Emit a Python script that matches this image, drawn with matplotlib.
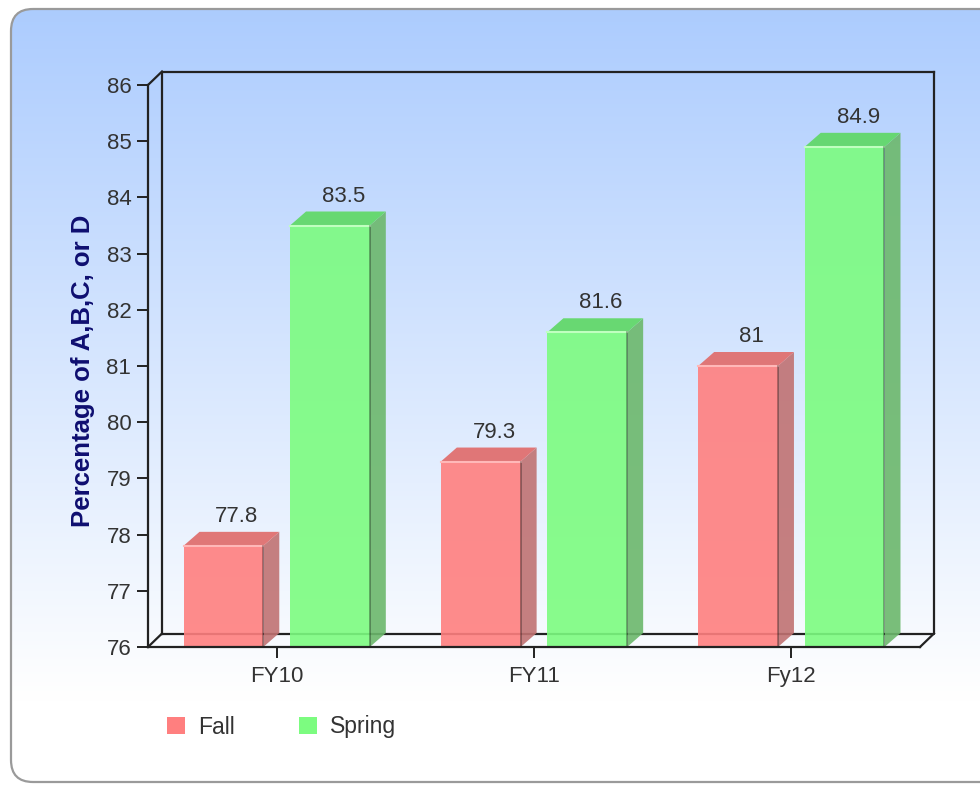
import numpy as np
import matplotlib.pyplot as plt
from matplotlib.patches import Polygon, FancyBboxPatch, Patch

# data
categories = ['FY10', 'FY11', 'Fy12']
fall = [77.8, 79.3, 81]
spring = [83.5, 81.6, 84.9]
series_names = ['Fall', 'Spring']
y_ticks = list(range(76, 87))
y_label = 'Percentage of A,B,C, or D'

plt.rcParams['font.family'] = ['Liberation Sans', 'DejaVu Sans']

W, H = 980, 785
fig = plt.figure(figsize=(W / 100, H / 100), dpi=100)

# --- background panel with a vertical blue -> white gradient
bg = fig.add_axes([0, 0, 1, 1], zorder=-10)
bg.set_xlim(0, W)
bg.set_ylim(H, 0)
bg.axis('off')
yy = np.linspace(8, 783, 400)
t = np.clip((yy - 8) / (700 - 8), 0, 1)[:, None, None]
top_col = np.array([0.675, 0.800, 0.996])
grad = top_col + (1 - top_col) * t
grad = np.repeat(grad, 2, axis=1)
frame = FancyBboxPatch((11, 9), 1000, 773, boxstyle='round,pad=0,rounding_size=22',
                       facecolor='none', edgecolor='#9a9a9a', lw=1.6, zorder=2)
bg.add_patch(frame)
im = bg.imshow(grad, extent=(0, W + 40, 783, 8), aspect='auto', zorder=1)
im.set_clip_path(frame)

# --- main plot area (front plane)
ax = fig.add_axes([148 / W, (H - 647) / H, (920 - 148) / W, (647 - 85) / H])
ax.set_facecolor('none')
ax.set_xlim(-0.5, 2.5)
ax.set_ylim(76, 86)

px_x = 3 / (920 - 148)      # data units per pixel in x
px_y = 10 / (647 - 85)      # data units per pixel in y
DX, DY = 16 * px_x, 14 * px_y          # bar depth
FX, FY = 14 * px_x, 13.5 * px_y        # back-plane offset

# back frame of the 3d box
x0, x1 = -0.5, 2.5
lk = dict(color='#222222', lw=1.6, clip_on=False, zorder=1)
ax.plot([x0 + FX, x1 + FX, x1 + FX], [76 + FY, 76 + FY, 86 + FY], **lk)
ax.plot([x0 + FX, x0 + FX, x1 + FX], [76 + FY, 86 + FY, 86 + FY], **lk)
ax.plot([x0, x0 + FX], [76, 76 + FY], **lk)
ax.plot([x0, x0 + FX], [86, 86 + FY], **lk)
ax.plot([x1, x1 + FX], [76, 76 + FY], **lk)

x = np.arange(len(categories))
off, bw = 0.207, 0.31
styles = [
    ('#ff7f7f', '#c07272', '#e07070', '#ffb8b8'),
    ('#7cfc80', '#6cb86c', '#62d86a', '#c0ffc0'),
]
for vals, xs, (front, side, topc, hi) in zip([fall, spring], [x - off, x + off], styles):
    bars = ax.bar(xs, np.array(vals) - 76, bottom=76, width=bw, color=front,
                  alpha=0.9, zorder=3, linewidth=0)
    for b, v in zip(bars, vals):
        l = b.get_x()
        r = l + b.get_width()
        ax.add_patch(Polygon([(r, 76), (r + DX, 76 + DY), (r + DX, v + DY), (r, v)],
                             closed=True, fc=side, ec='none', alpha=0.9, zorder=3))
        ax.add_patch(Polygon([(l, v), (l + DX, v + DY), (r + DX, v + DY), (r, v)],
                             closed=True, fc=topc, ec='none', alpha=0.95, zorder=3))
        ax.plot([l, r], [v, v], color=hi, lw=1.5, zorder=4)
        ax.plot([r, r], [76, v], color='#000000', lw=1.2, alpha=0.35, zorder=4)
        ax.annotate(f'{v:g}', (l + b.get_width() / 2 + DX / 2, v + DY),
                    xytext=(4, 3.5), textcoords='offset points',
                    ha='center', va='bottom', fontsize=16, color='#333333', zorder=5)

# front spines
for s in ['top', 'right']:
    ax.spines[s].set_visible(False)
for s in ['left', 'bottom']:
    ax.spines[s].set_color('#222222')
    ax.spines[s].set_linewidth(1.6)
    ax.spines[s].set_zorder(6)

ax.set_yticks(y_ticks)
ax.set_xticks(x)
ax.set_xticklabels(categories)
ax.tick_params(axis='y', direction='out', length=8, width=1.4, pad=4,
               labelsize=16, labelcolor='#333333', color='#222222')
ax.tick_params(axis='x', direction='out', length=8, width=1.4, pad=6,
               labelsize=16, labelcolor='#333333', color='#222222')

fig.text(83 / W, 1 - 371 / H, y_label, rotation=90, ha='center', va='center',
         fontsize=18.5, fontweight='bold', color='#0e0e70')

handles = [Patch(facecolor=styles[0][0]), Patch(facecolor=styles[1][0])]
fig.legend(handles, series_names, loc='center left',
           bbox_to_anchor=(167 / W, 1 - 727 / H), ncol=2, frameon=False,
           fontsize=16.5, handlelength=0.8, handleheight=0.8, handletextpad=0.55,
           columnspacing=2.8, borderpad=0, borderaxespad=0, labelcolor='#333333')

fig.savefig('out.png', dpi=100)
